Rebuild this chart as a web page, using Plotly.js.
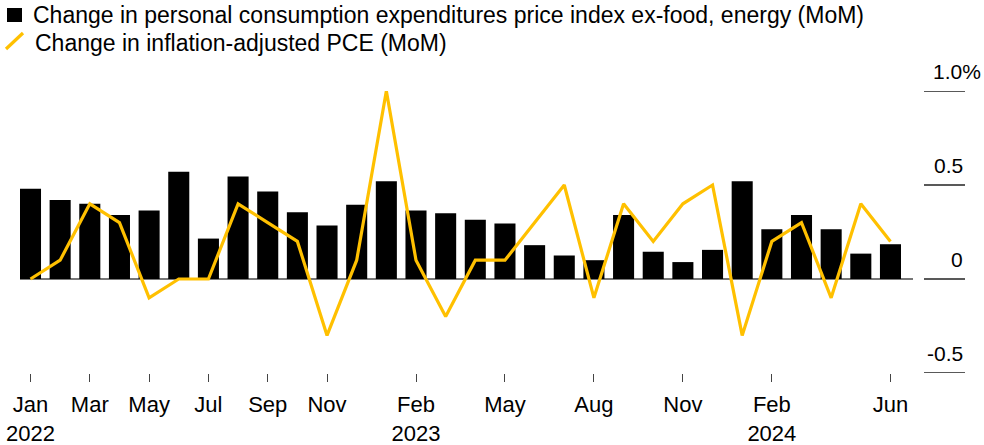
<!DOCTYPE html>
<html>
<head>
<meta charset="utf-8">
<script src="https://cdn.plot.ly/plotly-3.0.1.min.js"></script>
<style>
  html, body { margin: 0; padding: 0; background: #fff; }
  #chart { width: 984px; height: 445px; }
</style>
</head>
<body>
<div id="chart"></div>
<script>
const months = ['Jan 2022','Feb 2022','Mar 2022','Apr 2022','May 2022','Jun 2022','Jul 2022','Aug 2022','Sep 2022','Oct 2022','Nov 2022','Dec 2022',
  'Jan 2023','Feb 2023','Mar 2023','Apr 2023','May 2023','Jun 2023','Jul 2023','Aug 2023','Sep 2023','Oct 2023','Nov 2023','Dec 2023',
  'Jan 2024','Feb 2024','Mar 2024','Apr 2024','May 2024','Jun 2024'];
const coreName = 'Change in personal consumption expenditures price index ex-food, energy (MoM)';
const coreValues = [0.48,0.42,0.40,0.34,0.365,0.57,0.215,0.545,0.465,0.355,0.285,0.395,
  0.52,0.365,0.35,0.315,0.295,0.18,0.125,0.10,0.34,0.145,0.09,0.155,
  0.52,0.265,0.34,0.265,0.135,0.185];
const realName = 'Change in inflation-adjusted PCE (MoM)';
const realValues = [0.0,0.1,0.4,0.3,-0.1,0.0,0.0,0.4,0.3,0.2,-0.3,0.1,
  1.0,0.1,-0.2,0.1,0.1,0.3,0.5,-0.1,0.4,0.2,0.4,0.5,
  -0.3,0.2,0.3,-0.1,0.4,0.2];
const xTickVals = ['Jan 2022','Mar 2022','May 2022','Jul 2022','Sep 2022','Nov 2022','Feb 2023','May 2023','Aug 2023','Nov 2023','Feb 2024','Jun 2024'];
const xTickText = ['Jan<br>2022','Mar','May','Jul','Sep','Nov','Feb<br>2023','May','Aug','Nov','Feb<br>2024','Jun'];
const yTickVals = [-0.5, 0, 0.5, 1.0];
const yTickText = ['-0.5', '0', '0.5', '1.0%'];

const FONT = '"Liberation Sans", Arial, Helvetica, sans-serif';
const W = 984, H = 445;
const M = {l: 20, r: 71, t: 91, b: 72};
const plotW = W - M.l - M.r, plotH = H - M.t - M.b;
const px = p => (p - M.l) / plotW;
const py = p => 1 - (p - M.t) / plotH;
const YELLOW = '#FFC000';

const traces = [
  {type: 'bar', x: months, y: coreValues, name: coreName, marker: {color: '#000000'}, hoverinfo: 'skip'},
  {type: 'scatter', mode: 'lines', x: months, y: realValues, name: realName,
   line: {color: YELLOW, width: 3.2}, cliponaxis: false, hoverinfo: 'skip'}
];

const shapes = yTickVals.map(v => ({
  type: 'line', xref: 'paper', yref: 'y', x0: px(924), x1: px(965), y0: v, y1: v,
  line: {color: '#222', width: 1.5}
}));
shapes.push({type: 'rect', xref: 'paper', yref: 'paper', x0: px(7), x1: px(22), y0: py(8), y1: py(22),
  fillcolor: '#000', line: {width: 0}});
shapes.push({type: 'line', xref: 'paper', yref: 'paper', x0: px(6), x1: px(23), y0: py(49), y1: py(33),
  line: {color: YELLOW, width: 3.2}});

const annotations = yTickVals.map((v, i) => ({
  xref: 'paper', yref: 'y', x: i === 3 ? px(983) : px(965), y: v, yshift: 20,
  xanchor: 'right', yanchor: 'middle', showarrow: false, text: yTickText[i],
  font: {family: FONT, size: 21, color: '#000'}
}));
annotations.push({xref: 'paper', yref: 'paper', x: px(31), y: py(15), xanchor: 'left', yanchor: 'middle',
  showarrow: false, text: coreName, font: {family: FONT, size: 23, color: '#000'}});
annotations.push({xref: 'paper', yref: 'paper', x: px(33), y: py(43), xanchor: 'left', yanchor: 'middle',
  showarrow: false, text: realName, font: {family: FONT, size: 23, color: '#000'}});

const layout = {
  width: W, height: H, margin: M, showlegend: false,
  paper_bgcolor: '#fff', plot_bgcolor: '#fff',
  bargap: 0.29,
  font: {family: FONT, color: '#000'},
  xaxis: {type: 'category', range: [-0.354, 29.76], tickmode: 'array', tickvals: xTickVals, ticktext: xTickText,
    ticks: 'outside', ticklen: 8, tickcolor: '#444', tickwidth: 1, showgrid: false, showline: false, zeroline: false,
    tickfont: {family: FONT, size: 22, color: '#000'}, ticklabelstandoff: 4, fixedrange: true},
  yaxis: {range: [-0.5, 1.0], showticklabels: false, showgrid: false, zeroline: true, zerolinecolor: '#777', zerolinewidth: 1.2,
    ticks: '', fixedrange: true},
  shapes: shapes, annotations: annotations
};

Plotly.newPlot('chart', traces, layout, {staticPlot: true, displayModeBar: false});
</script>
</body>
</html>
